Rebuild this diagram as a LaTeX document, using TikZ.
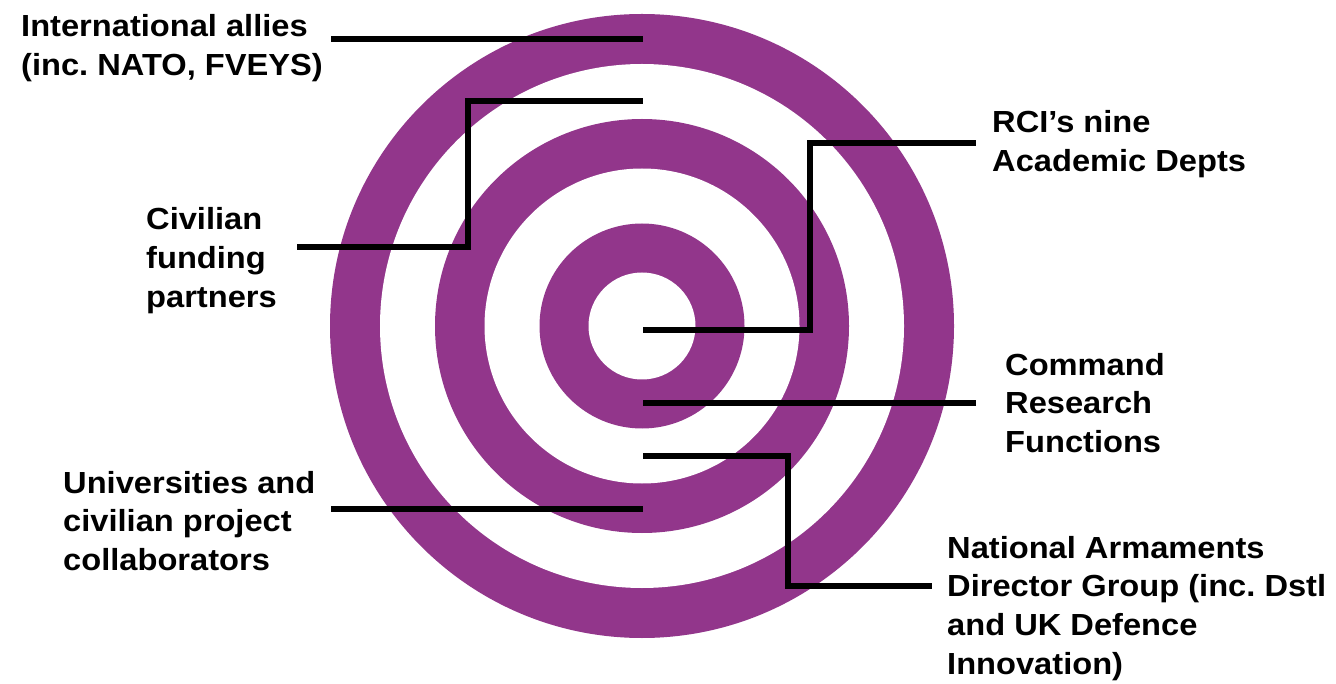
\documentclass[tikz,border=0pt]{standalone}
\usepackage{fontspec}
\newfontfamily\labfont[FakeStretch=1.07]{Liberation Sans}
\definecolor{ringpurple}{RGB}{146,54,139}
\frenchspacing
\begin{document}
\begin{tikzpicture}[x=1pt,y=-1pt,
  lab/.style={anchor=base west,inner sep=0pt,align=left,
    font=\labfont\bfseries\fontsize{30.5pt}{38.7pt}\selectfont\frenchspacing},
  conn/.style={line width=6pt,black},
  ringfill/.style={fill=ringpurple},
  gapfill/.style={fill=white}]
\useasboundingbox[fill=white] (0,0) rectangle (1336,684);
\coordinate (c) at (642,326);
\fill[ringfill] (c) circle (312pt);
\fill[gapfill] (c) circle (262pt);
\fill[ringfill] (c) circle (207pt);
\fill[gapfill] (c) circle (157.5pt);
\fill[ringfill] (c) circle (102.5pt);
\fill[gapfill] (c) circle (53.5pt);

% anchor base = baseline of the last line
\node[lab] (intl) at (21,75.7) {International allies\\(inc. NATO, FVEYS)};
\node[lab] (civ) at (146,307.4) {Civilian\\funding\\partners};
\node[lab] (rci) at (992,171.7) {RCI’s nine\\Academic Depts};
\node[lab] (cmd) at (1005,452.4) {Command\\Research\\Functions};
\node[lab] (nad) at (947,674.1) {National Armaments\\Director Group (inc. Dstl\\and UK Defence\\Innovation)};
\node[lab] (uni) at (63,570.4) {Universities and\\civilian project\\collaborators};

\coordinate (intlS) at (331,39);
\coordinate (intlE) at (643,39);
\coordinate (civS) at (297,247);
\coordinate (civE) at (643,101);
\coordinate (civK) at (468,247);
\coordinate (rciS) at (976,143);
\coordinate (rciE) at (643,330);
\coordinate (rciK) at (810,330);
\coordinate (cmdS) at (976,403);
\coordinate (cmdE) at (643,403);
\coordinate (nadS) at (932,586);
\coordinate (nadE) at (643,456);
\coordinate (nadK) at (788,456);
\coordinate (uniS) at (331,509);
\coordinate (uniE) at (643,509);

\draw[conn] (intlS) -- (intlE);
\draw[conn] (civS) -- (civK) |- (civE);
\draw[conn] (rciE) -- (rciK) |- (rciS);
\draw[conn] (cmdS) -- (cmdE);
\draw[conn] (nadE) -- (nadK) |- (nadS);
\draw[conn] (uniS) -- (uniE);
\end{tikzpicture}
\end{document}
